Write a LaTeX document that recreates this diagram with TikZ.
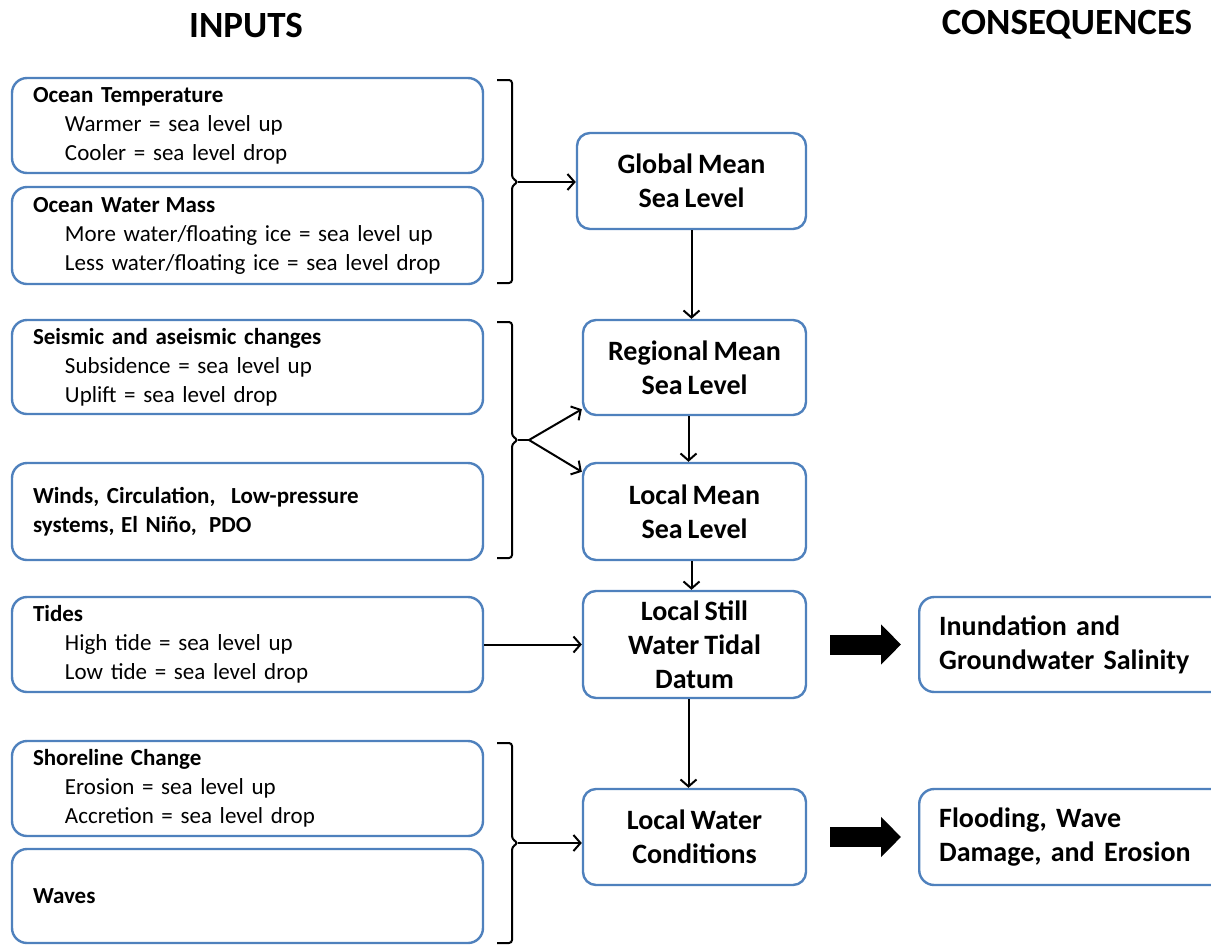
\documentclass[tikz,border=0pt]{standalone}
\usepackage{fontspec}
\setmainfont{Carlito}[WordSpace=0.8]
\usetikzlibrary{arrows.meta,calc}
\definecolor{boxblue}{RGB}{79,129,189}
\newcommand{\itemind}{\hspace*{32pt}}
\begin{document}
\begin{tikzpicture}[x=1pt,y=-1pt,
  inbox/.style={draw=boxblue,line width=2.4pt,rounded corners=15pt,fill=white,
    minimum width=471pt,text width=429pt,inner xsep=21pt,inner ysep=0pt,align=left,
    font=\fontsize{23}{29}\selectfont},
  midbox/.style={draw=boxblue,line width=2.4pt,rounded corners=13pt,fill=white,
    minimum width=223pt,inner sep=0pt,align=center,
    font=\fontsize{28}{34}\selectfont\bfseries},
  outbox/.style={draw=boxblue,line width=2.4pt,rounded corners=15pt,fill=white,
    anchor=west,text width=275pt,inner xsep=20pt,inner ysep=0pt,align=left,
    minimum height=95pt,font=\fontsize{28}{34}\selectfont\bfseries},
  header/.style={font=\fontsize{37}{40}\selectfont\bfseries,inner sep=0pt},
  conn/.style={line width=2pt,-{Straight Barb[length=7pt,width=16pt,line width=2pt]}},
  bracketline/.style={line width=2pt,rounded corners=3pt},
  bigarrow/.style={line width=20pt,-{Triangle[length=20pt,width=39pt]}}
]
\useasboundingbox (0,0) rectangle (1211,946);

% headers
\node[header] (hin) at (246,25) {INPUTS};
\node[header] (hout) at (1067,25) {CONSEQUENCES};

% input boxes
\node[inbox,minimum height=95pt] (temp) at (247.5,125.5)
  {\textbf{Ocean Temperature}\\\itemind Warmer = sea level up\\\itemind Cooler = sea level drop};
\node[inbox,minimum height=97pt] (mass) at (247.5,235.5)
  {\textbf{Ocean Water\hspace{-0.08em} Mass}\\\itemind More water/floating ice = sea level up\\\itemind Less water/floating ice = sea level drop};
\node[inbox,minimum height=94pt] (seis) at (247.5,367)
  {\textbf{Seismic and aseismic changes}\\\itemind Subsidence = sea level up\\\itemind Uplift = sea level drop};
\node[inbox,minimum height=97pt] (wind) at (247.5,511.5)
  {\textbf{Winds, Circulation,\hspace{0.35em} Low-pressure}\\\textbf{systems,\hspace{-0.05em} El Niño,\hspace{0.2em} PDO}};
\node[inbox,minimum height=95pt] (tide) at (247.5,644.5)
  {\textbf{Tides}\\\itemind High tide = sea level up\\\itemind Low tide = sea level drop};
\node[inbox,minimum height=95pt] (shore) at (247.5,788.5)
  {\textbf{Shoreline Change}\\\itemind Erosion = sea level up\\\itemind Accretion = sea level drop};
\node[inbox,minimum height=94pt] (wave) at (247.5,896)
  {\textbf{Waves}};

% middle boxes
\node[midbox,minimum width=229pt,minimum height=96pt] (glob) at (691.5,181) {Global Mean\\Sea Level};
\node[midbox,minimum height=95pt] (reg) at (694.5,367.5) {Regional Mean\\Sea Level};
\node[midbox,minimum height=97pt] (lmean) at (694.5,511.5) {Local Mean\\Sea Level};
\node[midbox,minimum height=107pt] (still) at (694.5,644.5) {Local Still\\Water Tidal\\Datum};
\node[midbox,minimum height=96pt] (water) at (694.5,837) {Local Water\\Conditions};

% consequence boxes
\node[outbox] (inund) at (918,644.5) {Inundation and\\Groundwater Salinity};
\node[outbox,minimum height=96pt] (flood) at (918,837) {Flooding, Wave\\Damage, and Erosion};

% brackets
\draw[bracketline] (497,80) -- (512,80) -- (512,178) -- (518,182) -- (512,186) -- (512,283) -- (497,283);
\coordinate (b1) at (518,182);
\draw[bracketline] (497,322) -- (512,322) -- (512,436) -- (518,440) -- (512,444) -- (512,558) -- (497,558);
\coordinate (b2) at (518,440);
\coordinate (fork) at (529,440);
\draw[bracketline] (497,743) -- (512,743) -- (512,839) -- (518,843) -- (512,847) -- (512,943) -- (497,943);
\coordinate (b3) at (518,843);

% connectors
\draw[conn] (b1) -- (b1 -| glob.west);
\draw[line width=2pt] (b2) -- (fork);
\draw[conn] (fork) -- ($(reg.south west)+(0,-7)$);
\draw[conn] (fork) -- ($(lmean.north west)+(0,10)$);
\draw[conn] (b3) -- (b3 -| water.west);
\draw[conn] (tide.east) -- (still.west);
\draw[conn] (glob.south) -- (glob.south |- reg.north);
\draw[conn] ([xshift=-6pt]reg.south) -- ([xshift=-6pt]lmean.north);
\draw[conn] ([xshift=-3pt]lmean.south) -- ([xshift=-3pt]still.north);
\draw[conn] ([xshift=-6pt]still.south) -- ([xshift=-6pt]water.north);

% block arrows
\draw[bigarrow] ($(still.east)+(23,0)$) -- ($(inund.west)+(-17,0)$);
\draw[bigarrow] ($(water.east)+(23,0)$) -- ($(flood.west)+(-17,0)$);
\end{tikzpicture}
\end{document}
